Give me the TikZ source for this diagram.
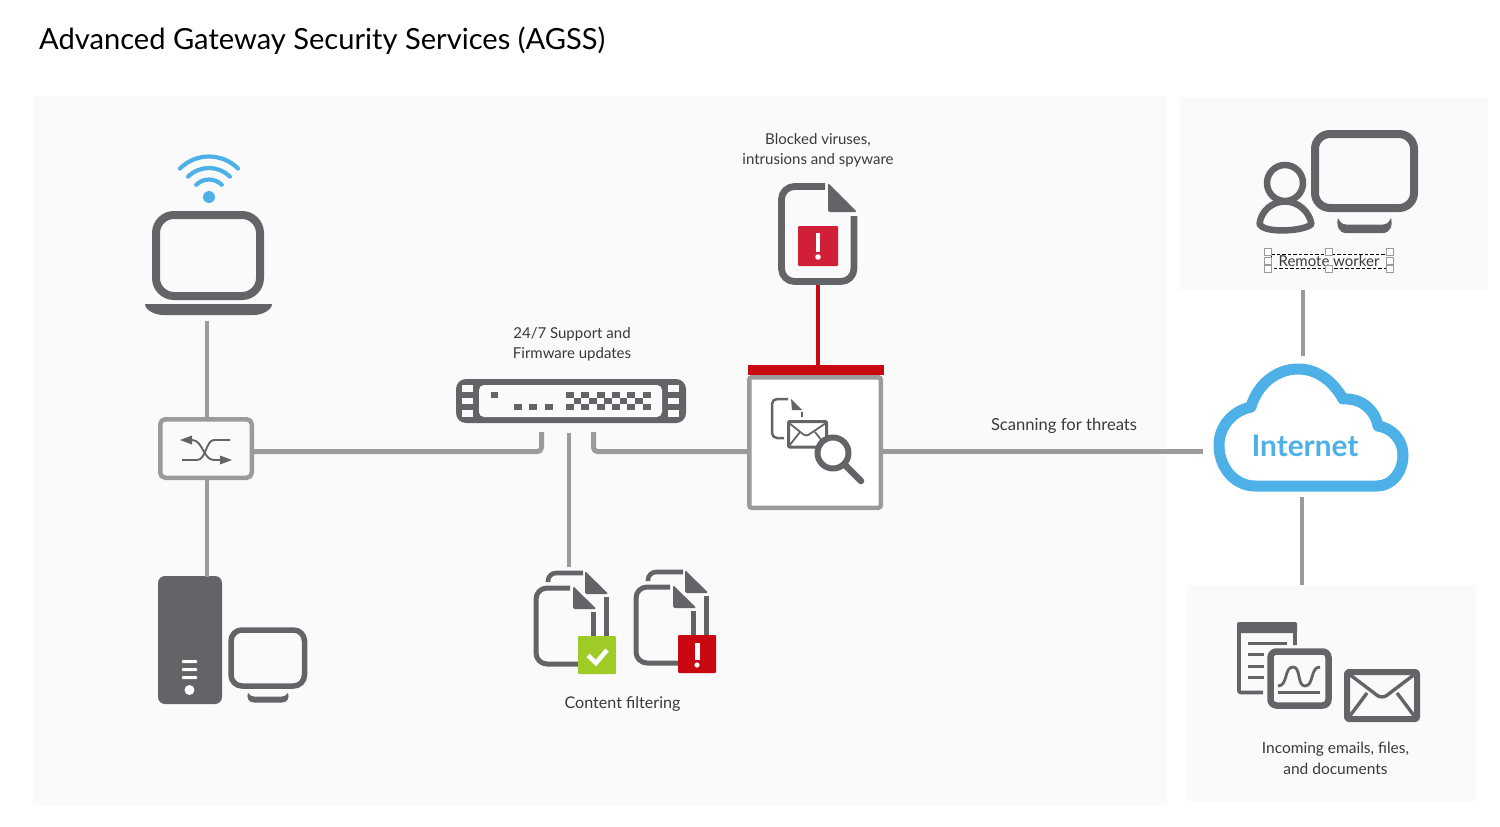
\documentclass[tikz,border=0pt]{standalone}
\usepackage{fontspec}
\setmainfont{Lato}
\definecolor{panel}{HTML}{FAFAFA}
\definecolor{ink}{HTML}{636468}
\definecolor{wire}{HTML}{9B9B9B}
\definecolor{sky}{HTML}{4DB1E8}
\definecolor{alert}{HTML}{C90812}
\definecolor{alertsoft}{HTML}{D01F36}
\definecolor{okgreen}{HTML}{9FCB27}
\definecolor{labeltext}{HTML}{3A3A3C}
\tikzset{
  panelbox/.style={fill=panel,draw=none,inner sep=0pt,outer sep=0pt,anchor=north west},
  conn/.style={draw=wire,line width=4.5pt},
  connthin/.style={draw=wire,line width=3.6pt},
  label/.style={align=center,text=labeltext,font=\fontsize{15}{20}\selectfont,inner sep=0pt},
  icon/.style={draw=ink,line join=round},
  solid ink/.style={fill=ink,draw=none},
  handlebox/.style={draw=wire,fill=white,line width=1.1pt},
}
\newcommand{\multidoc}{%
  \draw[icon,line width=4.6pt] (583,573) -- (556,573) [rounded corners=8pt] -- (548,573) -- (548,582);
  \fill[ink,rounded corners=1.5pt] (585,571) -- (608.5,594) -- (585,594) -- cycle;
  \draw[icon,line width=5pt] (606,597) -- (606,637);
  \fill[panel] (566,584) -- (575,584) -- (601,610) -- (601,612) -- (566,612) -- cycle;
  \draw[icon,line width=5pt,rounded corners=11pt] (570,588) -- (536,588) -- (536,664) -- (580,664);
  \fill[ink,rounded corners=1.5pt] (573,586) -- (596.5,609) -- (573,609) -- cycle;
  \draw[icon,line width=5pt] (593,612) -- (593,637);
}
\begin{document}
\begin{tikzpicture}[x=1pt,y=-1pt]
\useasboundingbox (0,0) rectangle (1500,827);
\fill[white] (0,0) rectangle (1500,827);
% panels
\node[panelbox,minimum width=1134pt,minimum height=709pt] (mainpanel) at (33,96) {};
\node[panelbox,minimum width=308pt,minimum height=193pt] (remotepanel) at (1180,97) {};
\node[panelbox,minimum width=289pt,minimum height=216pt] (incomingpanel) at (1187,585) {};
% title
\node[anchor=west,inner sep=0pt,text=black,font=\fontsize{29.1}{32}\selectfont] (title) at (39,40.5) {Advanced Gateway Security Services (AGSS)};

% named nodes
\node[draw=wire,fill=panel,line width=4.5pt,rounded corners=5pt,minimum width=91.5pt,minimum height=58.5pt,inner sep=0pt] (switch) at (206,448.5) {};
\node[draw=wire,fill=white,line width=4.5pt,rounded corners=2.5pt,minimum width=131.5pt,minimum height=130.5pt,inner sep=0pt] (scanbox) at (815,442.5) {};
\node[fill=alert,inner sep=0pt,minimum width=136pt,minimum height=10pt] (redbar) at (815.5,370) {};
\node[fill=ink,rounded corners=10pt,inner sep=0pt,minimum width=230pt,minimum height=44pt] (router) at (571,401) {};
\node[fill=ink,rounded corners=7pt,inner sep=0pt,minimum width=64pt,minimum height=128pt] (tower) at (190,640) {};
\coordinate (lapfoot) at (207,321);
\coordinate (towertop) at (207,577);
\coordinate (routerL) at (541.5,432);
\coordinate (routerM) at (568.5,433);
\coordinate (routerR) at (593.5,432);
\coordinate (docfoot) at (818,284);
\coordinate (filterTop) at (568.5,567);
\coordinate (cloudW) at (1203,451);
\coordinate (cloudN) at (1303,356);
\coordinate (cloudS) at (1302,497);
\coordinate (remoteBase) at (1303,290);
\coordinate (incomingTop) at (1302,585);

% connectors
\draw[connthin] (lapfoot) -- (switch.north -| lapfoot);
\draw[connthin] (switch.south -| towertop) -- (towertop);
\draw[conn,line width=5pt,rounded corners=4pt] (switch.east |- 0,451.5) -- (routerL |- 0,451.5) -- (routerL);
\draw[conn,line width=5pt,rounded corners=4pt] (routerR) -- (routerR |- 0,451.5) -- (scanbox.west |- 0,451.5);
\draw[connthin,line width=4pt] (routerM) -- (filterTop);
\draw[conn,line width=5pt] (scanbox.east |- 0,451.5) -- (cloudW |- 0,451.5);
\draw[draw=alert,line width=4.5pt] (docfoot) -- (redbar.north -| docfoot);
\draw[conn] (remoteBase) -- (cloudN);
\draw[conn] (cloudS) -- (incomingTop);

% laptop + wifi
\draw[icon,line width=8pt,rounded corners=18pt,fill=panel] (156,215) rectangle (260,296);
\fill[ink] (145,304) -- (272,304) .. controls (272,310) and (262,315) .. (254,315) -- (163,315) .. controls (155,315) and (145,310) .. (145,304) -- cycle;
\fill[sky] (209,197) circle (6pt);
\foreach \r/\w in {41/4.2,29.5/4.2,18/4.2}{
  \draw[draw=sky,line width=\w pt,line cap=round]
    ({209-.707*\r},{197.5-.707*\r}) .. controls ({209-.317*\r},{197.5-1.097*\r}) and ({209+.317*\r},{197.5-1.097*\r}) .. ({209+.707*\r},{197.5-.707*\r});
}

% switch glyph
\begin{scope}[draw=ink,line width=1.9pt]
  \draw (230,440) -- (214,440) .. controls (206,440) and (206,460) .. (197,460) -- (182,460);
  \draw (192,440) .. controls (203,440) and (203,460) .. (214,460) -- (222,460);
\end{scope}
\fill[ink] (180,440) -- (192,435.5) -- (192,444.5) -- cycle;
\fill[ink] (232,460) -- (220,455.5) -- (220,464.5) -- cycle;

% router
\fill[panel,rounded corners=5pt] (479,385) rectangle (662,417);
\foreach \a/\b in {385/392,398/404,410/417}{
  \fill[panel] (462,\a) rectangle (473,\b);
  \fill[panel] (668,\a) rectangle (679,\b);
}
\fill[ink] (491,392) rectangle (498,398);
\foreach \x in {514,529,545}{\fill[ink] (\x,404) rectangle ++(8,6);}
\foreach \k in {0,...,5}{
  \fill[ink] ({566+15.3*\k},392) rectangle ++(8,6);
  \fill[ink] ({566+15.3*\k},404) rectangle ++(8,6);
}
\foreach \k in {0,...,4}{\fill[ink] ({573.7+15.3*\k},398) rectangle ++(7.7,6);}

% scan box glyph
\draw[icon,line width=2.5pt,rounded corners=5pt] (788,399) -- (772,399) -- (772,438) -- (784,438);
\fill[ink] (791,399) -- (802,410) -- (792,410) -- cycle;
\draw[icon,line width=2.5pt] (802,412) -- (802,417);
\draw[icon,line width=3pt,rounded corners=1pt,fill=white] (788.5,421.5) rectangle (826.5,447);
\draw[icon,line width=1.8pt,rounded corners=3pt] (789,423) -- (806,436.5) -- (826,423);
\draw[icon,line width=1.8pt] (789,446) -- (800,432);
\draw[icon,line width=1.8pt] (826,446) -- (815,432);
\draw[icon,line width=6pt,fill=white] (833,453) circle (15.5pt);
\draw[icon,line width=6.5pt,line cap=round] (846,466) -- (861,481);

% top document
\draw[icon,line width=6.8pt,rounded corners=13pt] (825,186.5) -- (781.5,186.5) -- (781.5,281.5) -- (854,281.5) -- (854,216);
\fill[ink,rounded corners=2pt] (828,183) -- (857,212) -- (828,212) -- cycle;
\fill[alertsoft,rounded corners=1pt] (798,226) rectangle (838,266);
\fill[white] (815.8,233) rectangle (820.2,252);
\fill[white] (818,257) circle (2.8pt);

% tower + monitor
\foreach \y in {660,668,676}{\fill[white,rounded corners=.8pt] (182,\y) rectangle (197,\y+3.2);}
\fill[white] (189.5,690) circle (5pt);
\draw[icon,line width=5.5pt,rounded corners=11pt] (231,630) rectangle (304.5,686);
\fill[ink] (248,693) .. controls (250,695) and (251,696.5) .. (254,696.5) -- (282,696.5) .. controls (285,696.5) and (286,695) .. (288,693) .. controls (289.5,697) and (288,702.5) .. (282,702.5) -- (254,702.5) .. controls (248,702.5) and (246.5,697) .. (248,693) -- cycle;

% content filtering docs
\begin{scope}\multidoc\end{scope}
\begin{scope}[shift={(100,-1)}]\multidoc\end{scope}
\fill[okgreen,rounded corners=1pt] (578,636) rectangle (616,674);
\draw[white,line width=4.6pt] (588,655.5) -- (596,663) -- (607,650);
\fill[alert,rounded corners=1pt] (678,635) rectangle (716,673);
\fill[white] (694.5,643) rectangle (699.5,660);
\fill[white] (697,665) circle (2.6pt);

% remote worker
\draw[icon,line width=8pt,rounded corners=15pt] (1315,134) rectangle (1414,208);
\fill[ink] (1338,218) .. controls (1340,222) and (1342,224.5) .. (1346,224.5) -- (1383,224.5) .. controls (1387,224.5) and (1389,222) .. (1391,218) .. controls (1393,226) and (1390,233) .. (1383,233) -- (1346,233) .. controls (1339,233) and (1336,226) .. (1338,218) -- cycle;
\draw[icon,line width=6.5pt] (1285,183) circle (18pt);
\draw[icon,line width=6.5pt] (1259.5,224) .. controls (1261,211) and (1272,201.5) .. (1285,201.5) .. controls (1298,201.5) and (1309,211) .. (1311.5,224) .. controls (1306,231) and (1264,234) .. (1259.5,224) -- cycle;

\draw[black,line width=1pt,dash pattern=on 3.5pt off 2pt] (1271,254) rectangle (1388,268);
\node[label] (remotelabel) at (1329,261.5) {Remote worker};
\foreach \p in {(1268,252),(1268,261),(1268,269),(1329,252),(1329,269),(1390,252),(1390,261),(1390,269)}{
  \draw[handlebox] \p +(-3.3,-3.3) rectangle +(3.3,3.3);
}

% cloud
\draw[draw=sky,fill=white,line width=11pt,line join=round]
 (1255,486) -- (1377,486)
 .. controls (1392,486) and (1403,472) .. (1403,455)
 .. controls (1403,440) and (1392,428) .. (1378,426)
 .. controls (1375,410) and (1362,398) .. (1343,399)
 .. controls (1333,381) and (1317,369) .. (1298,369)
 .. controls (1276,369) and (1257,385) .. (1251,407)
 .. controls (1232,411) and (1219,427) .. (1219,445)
 .. controls (1219,468) and (1235,486) .. (1255,486) -- cycle;
\node[inner sep=0pt,text=sky,font=\fontsize{29.8}{32}\selectfont\bfseries] (internet) at (1305,446) {Internet};

% bottom-right icons
\draw[icon,line width=3.8pt,rounded corners=2pt] (1295,645) -- (1295,624) -- (1239,624) -- (1239,692.5) -- (1263,692.5);
\fill[ink,rounded corners=1.5pt] (1237,622) rectangle (1297,633);
\fill[ink] (1248,641.5) rectangle (1287,644.5);
\foreach \y in {652.5,664.5,675.5}{\fill[ink] (1248,\y) rectangle (1264,\y+3.2);}
\draw[icon,line width=6.5pt,fill=panel,rounded corners=6pt] (1270.5,651.5) rectangle (1328.5,705.5);
\draw[icon,line width=2.8pt] (1278,686) .. controls (1288,686) and (1284,667) .. (1293,667) .. controls (1301,667) and (1297,686) .. (1305,686) .. controls (1314,686) and (1310,667) .. (1320,667);
\draw[icon,line width=2.8pt] (1278,692.5) -- (1320,692.5);
\draw[icon,line width=6pt,rounded corners=2pt] (1347,672) rectangle (1417,719);
\draw[icon,line width=3.4pt,rounded corners=6pt] (1349,674) -- (1382,699) -- (1415,674);
\draw[icon,line width=3.4pt] (1349,717) -- (1367,693);
\draw[icon,line width=3.4pt] (1415,717) -- (1397,693);

% labels
\node[label] (blockedlabel) at (818,150) {Blocked viruses,\\intrusions and spyware};
\node[label] (supportlabel) at (572,344) {24/7 Support and\\Firmware updates};
\node[label,font=\fontsize{16.6}{20}\selectfont] (scanlabel) at (1064,426) {Scanning for threats};
\node[label,font=\fontsize{16.1}{20}\selectfont] (filterlabel) at (622.5,704) {Content filtering};
\node[label,font=\fontsize{15.5}{20.5}\selectfont] (incomingilabel) at (1335.5,758.5) {Incoming emails, files,\\and documents};
\end{tikzpicture}
\end{document}
